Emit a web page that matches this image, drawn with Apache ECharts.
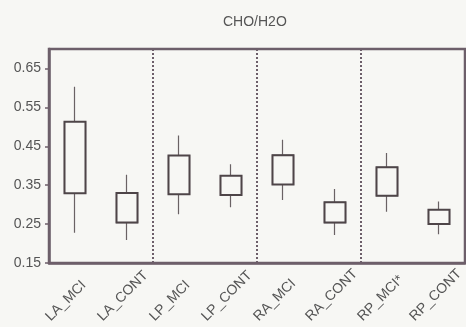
<!DOCTYPE html>
<html>
<head>
<meta charset="utf-8">
<script src="https://cdn.jsdelivr.net/npm/echarts@6/dist/echarts.min.js"></script>
<style>
html,body{margin:0;padding:0;background:#f7f7f4;}
#c{width:466px;height:327px;}
</style>
</head>
<body>
<div id="c"></div>
<script>
const categories = ['LA_MCI','LA_CONT','LP_MCI','LP_CONT','RA_MCI','RA_CONT','RP_MCI*','RP_CONT'];
const whiskerLow  = [0.228, 0.209, 0.275, 0.293, 0.312, 0.222, 0.282, 0.224];
const boxLow      = [0.329, 0.254, 0.327, 0.325, 0.352, 0.254, 0.323, 0.250];
const boxHigh     = [0.513, 0.330, 0.426, 0.374, 0.427, 0.306, 0.396, 0.287];
const whiskerHigh = [0.603, 0.377, 0.478, 0.404, 0.467, 0.340, 0.433, 0.308];
const yTicks = [0.15, 0.25, 0.35, 0.45, 0.55, 0.65];
const yMin = 0.15, yMax = 0.70;
const titleText = 'CHO/H2O';

const axisColor = '#6d5f6a';
const textColor = '#555';
const font = 'Liberation Sans, Arial, sans-serif';

const whiskerData = categories.map((c, i) => [boxLow[i], boxHigh[i], whiskerLow[i], whiskerHigh[i]]);
const boxData = categories.map((c, i) => [boxLow[i], boxHigh[i], boxLow[i], boxHigh[i]]);

const chart = echarts.init(document.getElementById('c'), null, {renderer: 'canvas'});
chart.setOption({
  backgroundColor: '#f7f7f4',
  animation: false,
  title: {
    text: titleText,
    left: 218, top: 10,
    textStyle: {fontSize: 14, fontWeight: 'normal', color: textColor, fontFamily: font}
  },
  grid: {
    left: 49, top: 49, width: 424, height: 214,
    show: true, borderColor: axisColor, borderWidth: 2.5, backgroundColor: 'transparent'
  },
  xAxis: {
    type: 'category',
    data: categories,
    boundaryGap: true,
    axisLine: {show: true, lineStyle: {color: axisColor, width: 2.5}},
    axisTick: {show: false},
    splitLine: {
      show: true,
      interval: function (index) { return index === 2 || index === 4 || index === 6; },
      lineStyle: {color: axisColor, type: 'dotted', width: 2}
    },
    axisLabel: {
      interval: 0,
      rotate: 45,
      align: 'left',
      verticalAlign: 'middle',
      margin: 29,
      padding: [0, 0, 0, -38],
      fontSize: 14,
      color: textColor,
      fontFamily: font
    }
  },
  yAxis: {
    type: 'value',
    min: yMin, max: yMax,
    axisLine: {show: true, lineStyle: {color: axisColor, width: 2.5}},
    axisTick: {show: true, length: 4, customValues: yTicks, lineStyle: {color: axisColor, width: 1.5}},
    splitLine: {show: false},
    axisLabel: {
      customValues: yTicks,
      formatter: v => v.toFixed(2),
      margin: 8,
      fontSize: 14,
      color: textColor,
      fontFamily: font
    }
  },
  series: [
    {
      type: 'candlestick',
      data: whiskerData,
      barWidth: 22,
      itemStyle: {color: 'transparent', color0: 'transparent', borderColor: '#6a6264', borderColor0: '#6a6264', borderWidth: 1.2}
    },
    {
      type: 'candlestick',
      data: boxData,
      barWidth: 22,
      itemStyle: {color: '#f7f7f4', color0: '#f7f7f4', borderColor: '#4e4548', borderColor0: '#4e4548', borderWidth: 2}
    }
  ]
});
</script>
</body>
</html>
